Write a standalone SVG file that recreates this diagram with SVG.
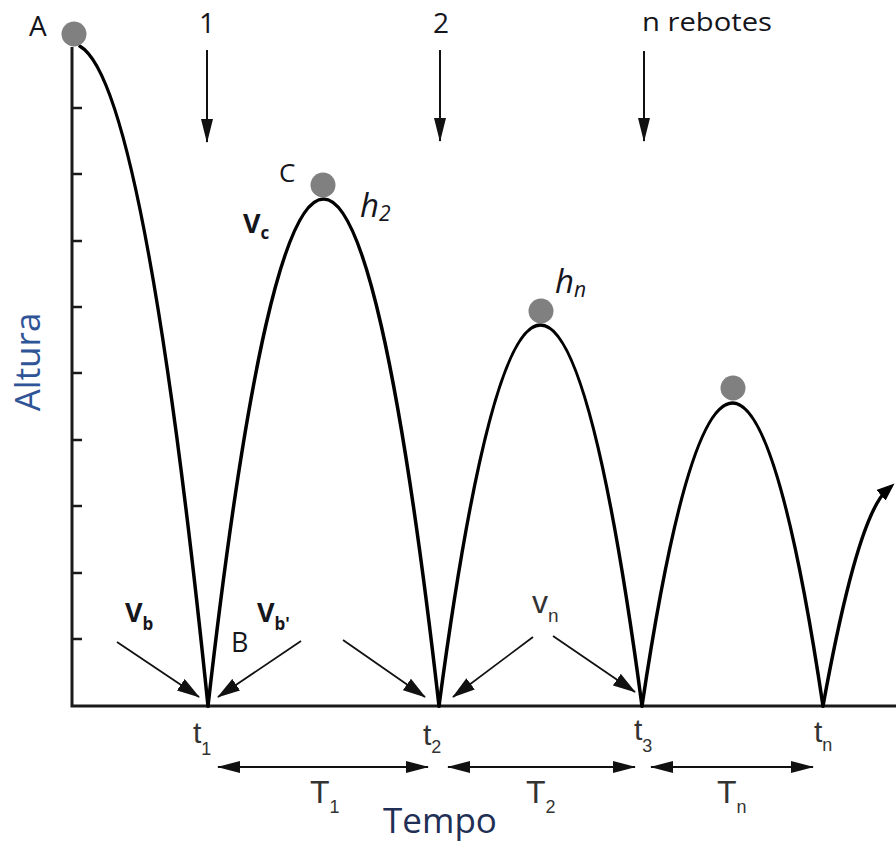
<svg xmlns="http://www.w3.org/2000/svg" width="896" height="845" viewBox="0 0 896 845">
<style>
.ax{stroke:#1a1a1a;stroke-width:3;fill:none}
.tk{stroke:#1a1a1a;stroke-width:2.5}
.cv{stroke:#000;stroke-width:3.5;fill:none;stroke-linecap:round}
.ball{fill:#808080}
.dn{stroke:#111;stroke-width:2}
.dg{stroke:#111;stroke-width:1.8}
.db{stroke:#111;stroke-width:1.8}
.lb{font-family:"Open Sans","Liberation Sans",sans-serif;fill:#15151c}
.bd{font-family:"Open Sans","Liberation Sans",sans-serif;font-weight:bold;fill:#15151c}
.it{font-family:"Open Sans","Liberation Sans",sans-serif;font-style:italic;fill:#15151c}
.ar{font-family:"Liberation Sans",Arial,sans-serif;fill:#333}
</style>
<defs>
<marker id="big" viewBox="0 0 24 12" markerWidth="24" markerHeight="12" refX="23" refY="6" orient="auto" markerUnits="userSpaceOnUse"><path d="M0,0 L24,6 L0,12 z" fill="#111"/></marker>
<marker id="mid" viewBox="0 0 23 14" markerWidth="23" markerHeight="14" refX="22" refY="7" orient="auto" markerUnits="userSpaceOnUse"><path d="M0,0 L23,7 L0,14 z" fill="#111"/></marker>
<marker id="dbl" viewBox="0 0 23 12" markerWidth="23" markerHeight="12" refX="22" refY="6" orient="auto-start-reverse" markerUnits="userSpaceOnUse"><path d="M0,0 L23,6 L0,12 z" fill="#111"/></marker>
<marker id="tip" viewBox="0 0 18 14" markerWidth="18" markerHeight="14" refX="8" refY="7" orient="auto" markerUnits="userSpaceOnUse"><path d="M0,0 L18,7 L0,14 z" fill="#000"/></marker>
</defs>

<g id="axes">
<path class="ax" d="M72,47 L72,706 L896,706"/>
<g class="tk">
<line x1="72" y1="108" x2="82" y2="108"/>
<line x1="72" y1="174" x2="82" y2="174"/>
<line x1="72" y1="241" x2="82" y2="241"/>
<line x1="72" y1="307" x2="82" y2="307"/>
<line x1="72" y1="373" x2="82" y2="373"/>
<line x1="72" y1="440" x2="82" y2="440"/>
<line x1="72" y1="506" x2="82" y2="506"/>
<line x1="72" y1="573" x2="82" y2="573"/>
<line x1="72" y1="639" x2="82" y2="639"/>
</g>
<text class="lb" transform="translate(40,362) rotate(-90)" text-anchor="middle" font-size="35" style="fill:#2f5597">Altura</text>
<text class="lb" x="440" y="833" text-anchor="middle" font-size="35" style="fill:#1f2f55">Tempo</text>
</g>

<g id="curves">
<path class="cv" d="M80,46.3 Q144,82.9 208,706"/>
<path class="cv" d="M208,706 Q323.5,-308 439,706"/>
<path class="cv" d="M439,706 Q540.5,-56 642,706"/>
<path class="cv" d="M642,706 Q732.5,100 823,706"/>
<path class="cv" d="M823,706 Q857.5,515.8 887,490" marker-end="url(#tip)"/>
</g>

<g id="balls">
<circle id="ballA" class="ball" cx="74" cy="34" r="12.5"/>
<circle id="ballC" class="ball" cx="323" cy="185" r="12.5"/>
<circle id="ballH" class="ball" cx="541" cy="311" r="12.5"/>
<circle id="ball4" class="ball" cx="733" cy="388" r="12.5"/>
</g>

<g id="connectors">
<line class="dn" x1="207" y1="50" x2="207" y2="142" marker-end="url(#big)"/>
<line class="dn" x1="440" y1="50" x2="440" y2="141" marker-end="url(#big)"/>
<line class="dn" x1="644" y1="51" x2="644" y2="141" marker-end="url(#big)"/>
<line class="dg" x1="117" y1="642" x2="199" y2="697" marker-end="url(#mid)"/>
<line class="dg" x1="301" y1="641" x2="218" y2="697" marker-end="url(#mid)"/>
<line class="dg" x1="343" y1="640" x2="425" y2="697" marker-end="url(#mid)"/>
<line class="dg" x1="533" y1="637" x2="453" y2="697" marker-end="url(#mid)"/>
<line class="dg" x1="553" y1="636" x2="635" y2="692" marker-end="url(#mid)"/>
<line class="db" x1="218" y1="767" x2="428" y2="767" marker-start="url(#dbl)" marker-end="url(#dbl)"/>
<line class="db" x1="448" y1="767" x2="635" y2="767" marker-start="url(#dbl)" marker-end="url(#dbl)"/>
<line class="db" x1="651" y1="767" x2="813" y2="767" marker-start="url(#dbl)" marker-end="url(#dbl)"/>
</g>

<g id="labels">
<text class="lb" x="29" y="36" font-size="28">A</text>
<text class="lb" x="207" y="33" font-size="28" text-anchor="middle">1</text>
<text class="lb" x="441" y="33" font-size="28" text-anchor="middle">2</text>
<text class="lb" x="642" y="31" font-size="26" textLength="130" lengthAdjust="spacingAndGlyphs">n rebotes</text>
<text class="lb" x="279" y="182" font-size="26">C</text>
<text class="lb" x="231" y="652" font-size="27">B</text>
<text class="bd" x="125" y="622" font-size="27">V<tspan font-size="17" dy="8">b</tspan></text>
<text class="bd" x="257" y="622" font-size="27">V<tspan font-size="17" dy="8">b'</tspan></text>
<text class="bd" x="243" y="233" font-size="27">V<tspan font-size="17" dy="6">c</tspan></text>
<text class="it" x="360" y="217" font-size="33">h<tspan font-size="21" dy="4">2</tspan></text>
<text class="it" x="555" y="293" font-size="33">h<tspan font-size="21" dy="4">n</tspan></text>
<text class="ar" x="532" y="613" font-size="32">v<tspan font-size="19" dy="9">n</tspan></text>
<text class="ar" x="193" y="743" font-size="30">t<tspan font-size="18" dy="12">1</tspan></text>
<text class="ar" x="423" y="745" font-size="30">t<tspan font-size="18" dy="8">2</tspan></text>
<text class="ar" x="634" y="740" font-size="30">t<tspan font-size="18" dy="12">3</tspan></text>
<text class="ar" x="814" y="742" font-size="30">t<tspan font-size="18" dy="9">n</tspan></text>
<text class="ar" x="310" y="803" font-size="32">T<tspan font-size="18" dy="10">1</tspan></text>
<text class="ar" x="526" y="803" font-size="32">T<tspan font-size="18" dy="10">2</tspan></text>
<text class="ar" x="717" y="803" font-size="32">T<tspan font-size="18" dy="10">n</tspan></text>
</g>
</svg>
